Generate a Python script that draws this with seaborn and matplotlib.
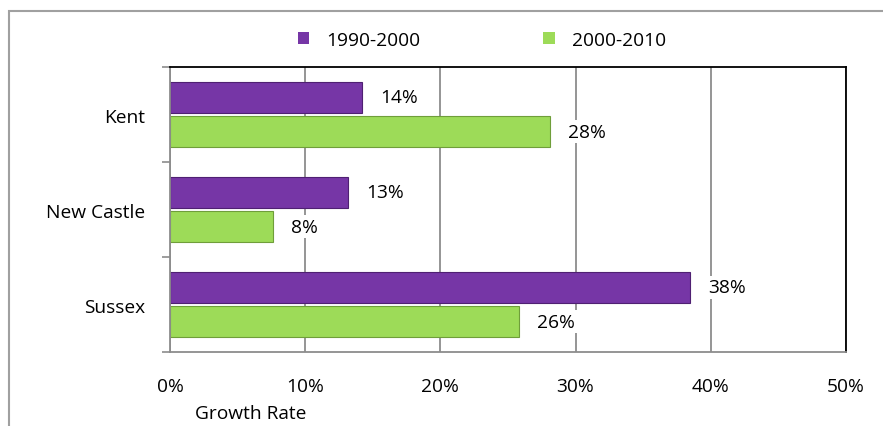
import pandas as pd
import matplotlib.pyplot as plt
import seaborn as sns
from matplotlib.patches import Rectangle
from matplotlib.ticker import FixedLocator

# Data (growth rate in percent)
counties = ['Kent', 'New Castle', 'Sussex']
growth_1990_2000 = [14.2, 13.2, 38.5]
growth_2000_2010 = [28.1, 7.6, 25.8]
periods = ['1990-2000', '2000-2010']
x_ticks = [0, 10, 20, 30, 40, 50]

df = pd.DataFrame({
    'county': counties * 2,
    'period': [periods[0]] * 3 + [periods[1]] * 3,
    'growth': growth_1990_2000 + growth_2000_2010,
})

sns.set_theme(style='white')
plt.rcParams['font.family'] = ['Open Sans', 'DejaVu Sans']
plt.rcParams['text.color'] = 'black'
plt.rcParams['xtick.color'] = 'black'
plt.rcParams['ytick.color'] = 'black'
plt.rcParams['axes.labelcolor'] = 'black'
FS = 13.8

fig = plt.figure(figsize=(8.83, 4.27), dpi=100)
ax = fig.add_axes([0.1925, 0.1733, 0.7655, 0.6674])

palette = {'1990-2000': '#7636a6', '2000-2010': '#9ddb58'}
sns.barplot(data=df, x='growth', y='county', hue='period', order=counties,
            hue_order=periods, palette=palette, orient='h', width=0.72,
            gap=0.08, ax=ax, saturation=1, linewidth=0)

# darker edges per series for a slight bevel feel
for container, edge in zip(ax.containers, ['#4f2072', '#6f9e3a']):
    for bar in container:
        bar.set_edgecolor(edge)
        bar.set_linewidth(0.8)
    ax.bar_label(container, labels=[f'{v.get_width():.0f}%' for v in container],
                 padding=13, fontsize=FS,
                 bbox=dict(facecolor='white', edgecolor='none', pad=2))

ax.set_xlim(0, 50)
ax.set_xticks(x_ticks)
ax.set_xticklabels([f'{t}%' for t in x_ticks], fontsize=FS)
ax.tick_params(axis='x', length=0, pad=18)
ax.xaxis.grid(True, color='#8c8c8c', linewidth=1.3)
ax.set_axisbelow(True)

ax.set_ylim(2.5, -0.5)
ax.tick_params(axis='y', which='major', length=0, pad=18, labelsize=FS)
ax.yaxis.set_minor_locator(FixedLocator([-0.5, 0.5, 1.5, 2.5]))
ax.tick_params(axis='y', which='minor', length=6, width=1.2, color='#8c8c8c', left=True)
ax.set_ylabel('')

ax.set_xlabel('Growth Rate', fontsize=FS)
ax.xaxis.set_label_coords(0.12, -0.214)
ax.xaxis.label.set_va('center')

for side in ['left', 'bottom']:
    ax.spines[side].set_color('#8c8c8c')
    ax.spines[side].set_linewidth(1.3)
for side in ['top', 'right']:
    ax.spines[side].set_color('black')
    ax.spines[side].set_linewidth(1.3)

handles, labels = ax.get_legend_handles_labels()
ax.get_legend().remove()
fig.legend(handles, labels, loc='center', bbox_to_anchor=(0.546, 0.904), ncol=2,
           frameon=False, fontsize=FS, handlelength=0.6, handleheight=0.6,
           handletextpad=0.9, columnspacing=6.4)

# outer chart frame
fig.patches.append(Rectangle((0.0102, -0.1), 1.2, 1.072, transform=fig.transFigure,
                             fill=False, edgecolor='#a0a0a0', linewidth=1.5))

plt.savefig('out.png', dpi=100)
